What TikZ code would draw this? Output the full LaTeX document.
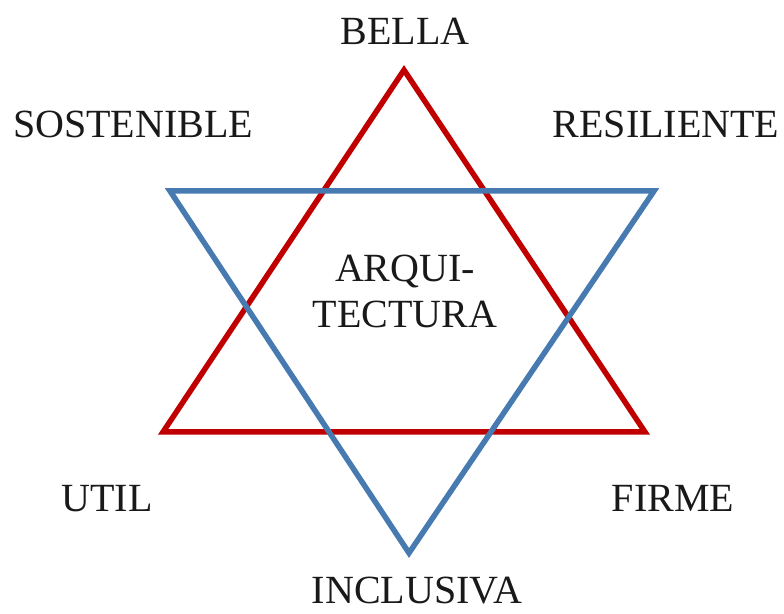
\documentclass[tikz,border=0pt]{standalone}
\usepackage{fontspec}
\setmainfont{Liberation Serif}
\begin{document}
\begin{tikzpicture}[x=1pt,y=1pt,
  lbl/.style={anchor=base,inner sep=0pt,font=\fontsize{40}{46}\selectfont,text=black!90},
  redtri/.style={draw={rgb,255:red,192;green,0;blue,0},line width=5.5pt,line join=miter},
  bluetri/.style={draw={rgb,255:red,70;green,122;blue,176},line width=5.5pt,line join=miter}]
\useasboundingbox (0,0) rectangle (784,613);
% red triangle
\coordinate (rA) at (404,543);
\coordinate (rL) at (163,181);
\coordinate (rR) at (645,181);
% blue triangle
\coordinate (bL) at (170,422);
\coordinate (bR) at (654,422);
\coordinate (bB) at (409,60);
\draw[redtri] (rA) -- (rL) -- (rR) -- cycle;
\draw[bluetri] (bL) -- (bR) -- (bB) -- cycle;
\node[lbl] (bella) at (405,568) {BELLA};
\node[lbl] (sost) at (133,475) {SOSTENIBLE};
\node[lbl] (resi) at (666,475) {RESILIENTE};
\node[lbl] (util) at (107,101) {UTIL};
\node[lbl] (firme) at (673,101) {FIRME};
\node[lbl] (incl) at (417,10) {INCLUSIVA};
\node[lbl,align=center] (arq) at (405,285) {ARQUI-\\TECTURA};
\end{tikzpicture}
\end{document}
